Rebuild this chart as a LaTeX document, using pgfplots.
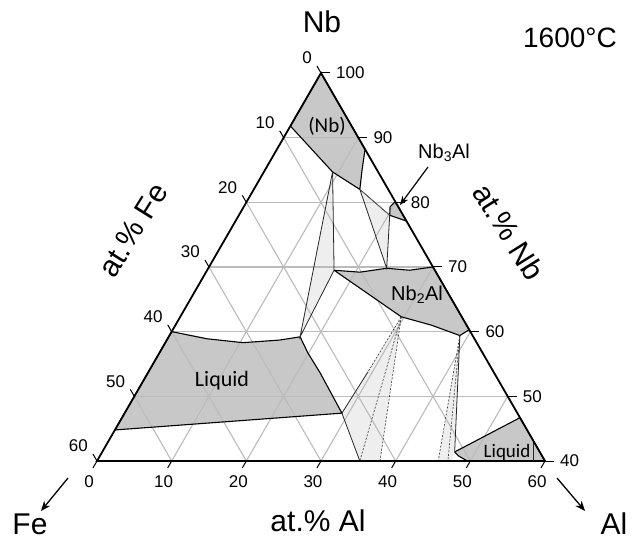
\documentclass[border=0pt]{standalone}
\usepackage{fontspec}
\setmainfont{Liberation Sans}
\newfontfamily\carlito{Carlito}
\usepackage{pgfplots}
\usepackage{pgfplotstable}
\pgfplotsset{compat=1.18}
\usetikzlibrary{arrows.meta}

\definecolor{phase}{HTML}{C8C8C8}
\definecolor{tie}{HTML}{EEEEEE}
\definecolor{gridc}{HTML}{BBBBBB}

\pgfplotsset{
  table/tern/.style={/pgfplots/table/x expr={\thisrow{Al}+0.5*(\thisrow{Nb}-40)}, /pgfplots/table/y expr={0.8660254*(\thisrow{Nb}-40)}},
  table/ternin/.style={/pgfplots/table/row sep=\\, /pgfplots/table/tern},
  bnd/.style={draw=black, line width=1.1bp, mark=none},
  thinl/.style={draw=black!85, line width=0.8bp, mark=none},
  dsh/.style={draw=black!80, line width=0.6bp, dash pattern=on 2bp off 1.6bp, mark=none},
}
\newcommand\tp[2]{(axis cs:{(#1)+0.5*((#2)-40)},{0.8660254*((#2)-40)})}
\newcommand\bigf{\fontsize{30bp}{36bp}\selectfont}
\newcommand\axf{\fontsize{30bp}{36bp}\selectfont}
\newcommand\tickf{\fontsize{17bp}{20bp}\selectfont}
\newcommand\phf{\fontsize{20bp}{24bp}\selectfont}

% phase regions (Al, Nb in at.%)
\pgfplotstableread{
Al Nb
0 100
0 91.8
9.2 84.7
14.2 82.0
13.0 85.0
11.8 88.2
0 100
}\tNbss
\pgfplotstableread{
Al Nb
19.9 80.1
19.6 79.3
20.2 78.0
22.9 77.1
19.9 80.1
}\tNbiiiAl
\pgfplotstableread{
Al Nb
17.0 69.5
20.6 69.2
23.9 69.8
27.1 69.5
30.0 70.0
39.7 60.3
38.9 59.4
34.3 61.0
29.6 62.3
17.0 69.5
}\tNbiiAl
\pgfplotstableread{
Al Nb
0 60.0
5.3 58.9
10.4 58.3
15.1 58.7
17.6 59.2
19.9 56.7
23.1 53.6
29.1 47.4
0 44.8
0 60.0
}\tLiqFe
\pgfplotstableread{
Al Nb
47.2 41.4
53.3 46.7
60.0 40.0
49.6 40.0
48.0 40.8
47.2 41.4
}\tLiqAl
% tie triangles
\pgfplotstableread{
Al Nb
9.2 84.7
17.0 69.5
17.6 59.2
9.2 84.7
}\tTieA
\pgfplotstableread{
Al Nb
14.2 82.0
20.2 78.0
23.9 69.8
14.2 82.0
}\tTieB
\pgfplotstableread{
Al Nb
29.6 62.3
29.1 47.4
35.2 40.0
37.9 40.0
29.6 62.3
}\tTieC
\pgfplotstableread{
Al Nb
38.9 59.4
45.7 40.0
47.5 40.0
47.2 41.4
38.9 59.4
}\tTieD

\begin{document}
\begin{tikzpicture}
\begin{axis}[width=448bp, height=388bp, scale only axis,
  xmin=0, xmax=60, ymin=0, ymax=51.9615, hide axis, clip=false]
\coordinate (O) at (axis cs:0,0);
% fills
\addplot[fill=tie, draw=none] table[tern] {\tTieA};
\addplot[fill=tie, draw=none] table[tern] {\tTieB};
\addplot[fill=tie, draw=none] table[tern] {\tTieC};
\addplot[fill=tie, draw=none] table[tern] {\tTieD};
\addplot[fill=phase, draw=none] table[tern] {\tNbss};
\addplot[fill=phase, draw=none] table[tern] {\tNbiiiAl};
\addplot[fill=phase, draw=none] table[tern] {\tNbiiAl};
\addplot[fill=phase, draw=none] table[tern] {\tLiqFe};
\addplot[fill=phase, draw=none] table[tern] {\tLiqAl};
% grid
\pgfplotsinvokeforeach{50,60,70,80,90}{\draw[gridc, line width=1.1bp] \tp{0}{#1} -- \tp{100-#1}{#1};}
\pgfplotsinvokeforeach{10,20,30,40,50}{\draw[gridc, line width=1.1bp] \tp{#1}{40} -- \tp{#1}{100-#1};}
\pgfplotsinvokeforeach{10,20,30,40,50}{\draw[gridc, line width=1.1bp] \tp{60-#1}{40} -- \tp{0}{100-#1};}
% boundaries
\addplot[bnd] table[tern] {\tNbss};
\addplot[bnd] table[tern] {\tNbiiiAl};
\addplot[bnd] table[tern] {\tNbiiAl};
\addplot[bnd] table[tern] {\tLiqFe};
\addplot[bnd] table[tern] {\tLiqAl};
\addplot[thinl] table[tern] {\tTieA};
\addplot[thinl] table[tern] {\tTieB};
\addplot[draw=black!60, line width=0.6bp] table[ternin] {Al Nb\\ 14.2 82.0\\ 20.2 78.0\\};
\addplot[thinl] table[ternin] {Al Nb\\ 29.4 53.8\\ 29.1 47.4\\ 35.2 40.0\\};
\addplot[dsh] table[ternin] {Al Nb\\ 29.6 62.3\\ 29.4 53.8\\};
\addplot[dsh] table[ternin] {Al Nb\\ 29.6 62.3\\ 35.2 40.0\\};
\addplot[dsh] table[ternin] {Al Nb\\ 29.6 62.3\\ 37.9 40.0\\};
\addplot[dsh] table[ternin] {Al Nb\\ 38.9 59.4\\ 45.7 40.0\\};
\addplot[dsh] table[ternin] {Al Nb\\ 38.9 59.4\\ 47.0 40.0\\};
\addplot[thinl] table[ternin] {Al Nb\\ 38.9 59.4\\ 47.2 41.4\\};
\addplot[thinl] table[ternin] {Al Nb\\ 57.0 42.8\\ 58.4 40.0\\};
% outline
\draw[black, line width=1.8bp, line join=miter] \tp{0}{40} -- \tp{60}{40} -- \tp{0}{100} -- cycle;
% ticks and labels
\pgfplotsinvokeforeach{0,10,20,30,40,50,60}{
  \draw[black, line width=1bp] \tp{0}{100-#1} -- ++(-4bp,6.9bp);
  \path \tp{0}{100-#1} ++(-9bp,15bp) node[anchor=east, inner sep=0, font=\tickf]{#1};
  \draw[black, line width=1bp] \tp{#1}{40} -- ++(-4bp,-6.9bp);
  \path \tp{#1}{40} ++(-8bp,-21bp) node[inner sep=0, font=\tickf]{#1};
}
\pgfplotsinvokeforeach{100,90,80,70,60,50,40}{
  \draw[black, line width=1bp] \tp{100-#1}{#1} -- ++(9bp,0);
  \path \tp{100-#1}{#1} ++(15bp,0) node[anchor=west, inner sep=0, font=\tickf]{#1};
}
\end{axis}
% texts
\node[font=\bigf] at ([shift={(225bp,439bp)}]O) {Nb};
\node[font=\fontsize{28bp}{34bp}\selectfont] at ([shift={(473bp,423bp)}]O) {1600°C};
\node[font=\bigf] at ([shift={(-67bp,-63bp)}]O) {Fe};
\node[font=\bigf] at ([shift={(517bp,-63bp)}]O) {Al};
\node[font=\axf] at ([shift={(221bp,-60bp)}]O) {at.\% Al};
\node[font=\axf, rotate=58] at ([shift={(36bp,231bp)}]O) {at.\% Fe};
\node[font=\axf, rotate=-58] at ([shift={(412bp,229bp)}]O) {at.\% Nb};
\node[font=\carlito\fontsize{21bp}{24bp}\selectfont] at ([shift={(230bp,335bp)}]O) {(Nb)};
\node[font=\phf] at ([shift={(347bp,308bp)}]O) {Nb\textsubscript{3}Al};
\node[font=\phf] at ([shift={(320bp,166bp)}]O) {Nb\textsubscript{2}Al};
\node[font=\carlito\fontsize{22bp}{26bp}\selectfont] at ([shift={(125bp,80bp)}]O) {Liquid};
\node[font=\carlito\fontsize{19bp}{22bp}\selectfont] at ([shift={(410bp,9bp)}]O) {Liquid};
% arrows
\draw[-{Stealth[length=10bp,width=8bp]}, line width=1.3bp] ([shift={(-29bp,-17bp)}]O) -- ([shift={(-56bp,-50bp)}]O);
\draw[-{Stealth[length=10bp,width=8bp]}, line width=1.3bp] ([shift={(460bp,-17bp)}]O) -- ([shift={(488bp,-50bp)}]O);
\draw[-{Stealth[length=9bp,width=7bp]}, line width=1.2bp] ([shift={(331bp,294bp)}]O) -- ([shift={(303bp,256bp)}]O);
\pgfresetboundingbox
\path ([shift={(-97bp,-80bp)}]O) rectangle ([shift={(535bp,461bp)}]O);
\end{tikzpicture}
\end{document}
